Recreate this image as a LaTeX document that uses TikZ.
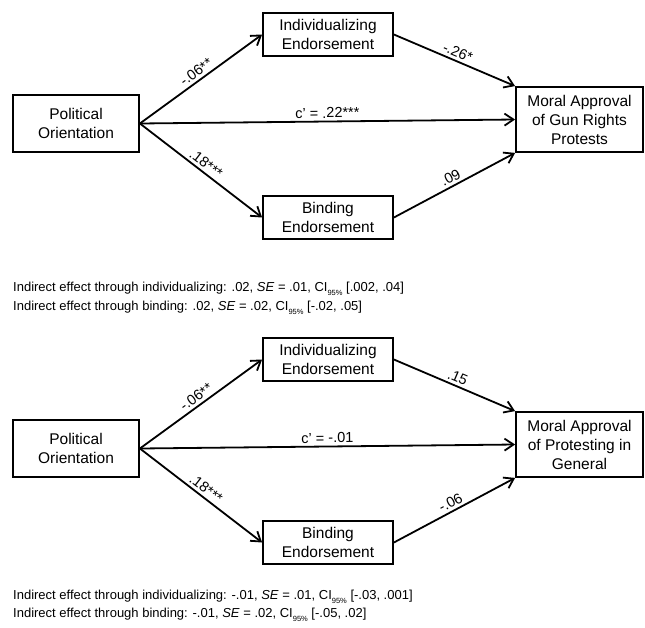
\documentclass[tikz,border=0pt]{standalone}
\usepackage{fontspec}
\setmainfont{Liberation Sans}
\usetikzlibrary{positioning, arrows.meta}

\tikzset{
  var/.style={draw, line width=1.8pt, minimum width=130pt, minimum height=43pt, align=center, inner sep=0pt, font=\fontsize{15.5}{19}\selectfont},
  path/.style={-{Straight Barb[length=9pt, width=12pt]}, line width=1.8pt},
  coef/.style={font=\fontsize{14.5}{15}\selectfont, sloped, above, inner sep=2.5pt},
  note/.style={anchor=base west, inner sep=0pt, font=\fontsize{13}{19}\selectfont}
}
\newcommand{\cisub}{CI\raisebox{-4pt}{\fontsize{7.5}{8}\selectfont 95\%}}

\begin{document}
\begin{tikzpicture}[x=1pt, y=-1pt]
\useasboundingbox (0,0) rectangle (645,627);

\node[var, minimum width=126pt, minimum height=57pt] (polA) at (76,123.5) {Political\\Orientation};
\node[var] (indA) at (328,34.5) {Individualizing\\Endorsement};
\node[var] (binA) at (328,217.5) {Binding\\Endorsement};
\node[var, minimum width=127pt, minimum height=65pt] (morA) at (579.5,119.5) {Moral Approval\\of Gun Rights\\Protests};

\draw[path] (polA.east) -- node[coef] {-.06**} (indA.west);
\draw[path] (polA.east) -- node[coef] {c' = .22***} (morA.west);
\draw[path] (polA.east) -- node[coef] {.18***} (binA.west);
\draw[path] (indA.east) -- node[coef] {-.26*} (morA.north west);
\draw[path] (binA.east) -- node[coef] {.09} (morA.south west);

\node[note] (noteA1) at (13,291) {Indirect effect through individualizing: .02, \textit{SE} = .01, \cisub{} [.002, .04]};
\node[note] (noteA2) at (13,310) {Indirect effect through binding: .02, \textit{SE} = .02, \cisub{} [-.02, .05]};

\node[var, minimum width=126pt, minimum height=57pt] (polB) at (76,448.5) {Political\\Orientation};
\node[var] (indB) at (328,359.5) {Individualizing\\Endorsement};
\node[var] (binB) at (328,542.5) {Binding\\Endorsement};
\node[var, minimum width=127pt, minimum height=65pt] (morB) at (579.5,444.5) {Moral Approval\\of Protesting in\\General};

\draw[path] (polB.east) -- node[coef] {-.06**} (indB.west);
\draw[path] (polB.east) -- node[coef] {c' = -.01} (morB.west);
\draw[path] (polB.east) -- node[coef] {.18***} (binB.west);
\draw[path] (indB.east) -- node[coef] {.15} (morB.north west);
\draw[path] (binB.east) -- node[coef] {-.06} (morB.south west);

\node[note] (noteB1) at (13,599) {Indirect effect through individualizing: -.01, \textit{SE} = .01, \cisub{} [-.03, .001]};
\node[note] (noteB2) at (13,617.5) {Indirect effect through binding: -.01, \textit{SE} = .02, \cisub{} [-.05, .02]};

\end{tikzpicture}
\end{document}
